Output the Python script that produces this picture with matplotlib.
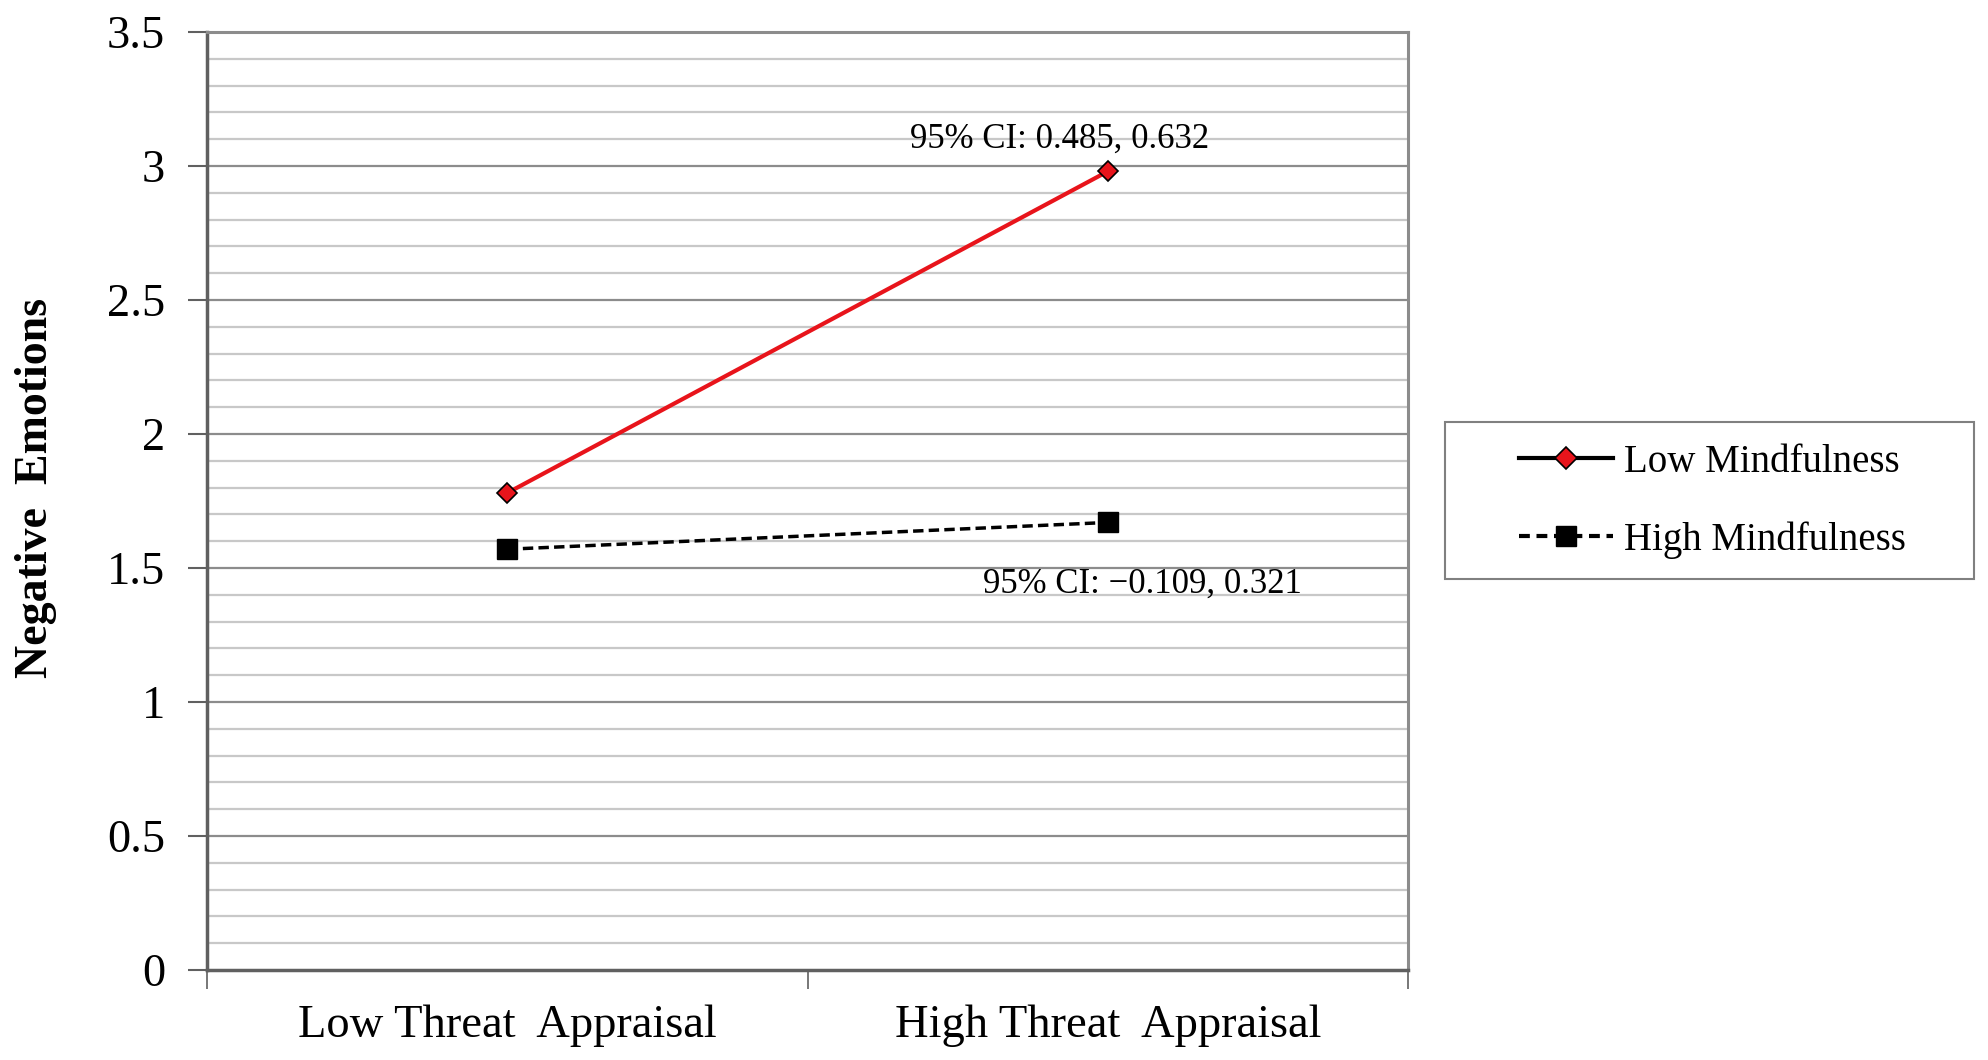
import numpy as np
import matplotlib
matplotlib.use('Agg')
import matplotlib.pyplot as plt
from matplotlib.lines import Line2D
from matplotlib.patches import Rectangle
from matplotlib.ticker import MultipleLocator

# data
categories = ['Low Threat  Appraisal', 'High Threat  Appraisal']
low_mind = [1.78, 2.98]
high_mind = [1.57, 1.67]
series_names = ['Low Mindfulness', 'High Mindfulness']
ci_low = '95% CI: 0.485, 0.632'
ci_high = '95% CI: \u22120.109, 0.321'

plt.rcParams['font.family'] = ['Liberation Serif', 'DejaVu Serif']

fig = plt.figure(figsize=(19.88, 10.6), dpi=100)
ax = fig.add_axes([0.1041, 0.0849, 0.6042, 0.8849])

xpos = np.arange(len(categories)) + 0.5
ax.set_xlim(0, len(categories))
ax.set_ylim(0, 3.5)

# gridlines: minor every 0.1, major every 0.5
for y in np.arange(0.1, 3.5, 0.1):
    if abs(y / 0.5 - round(y / 0.5)) < 1e-6:
        ax.axhline(y, color='#8c8c8c', lw=1.6, zorder=1)
    else:
        ax.axhline(y, color='#c8c8c8', lw=1.6, zorder=1)

ax.plot(xpos, low_mind, color='#e8141b', lw=3, marker='D', ms=10,
        mfc='#e8141b', mec='black', mew=1.2, zorder=3)
ax.plot(xpos, high_mind, color='black', lw=2.5, ls=(0, (3, 1.5)), marker='s', ms=15,
        mfc='black', mec='black', zorder=3)

ax.text(xpos[1] - 0.08, low_mind[1] + 0.12, ci_low, fontsize=25, ha='center', va='center')
ax.text(xpos[1] + 0.057, high_mind[1] - 0.23, ci_high, fontsize=25, ha='center', va='center')

# axes styling
ax.yaxis.set_major_locator(MultipleLocator(0.5))
ax.set_yticklabels([f'{v:g}' for v in ax.get_yticks()])
ax.tick_params(axis='y', which='major', length=14, width=1.5, color='#606060',
               labelsize=33.5, pad=16)
ax.set_xticks([0, 1, 2])
ax.set_xticklabels([])
ax.set_xticks(xpos, minor=True)
ax.set_xticklabels(categories, minor=True)
ax.tick_params(axis='x', which='major', length=14, width=1.2, color='#606060')
ax.tick_params(axis='x', which='minor', length=0, labelsize=33.5, pad=25)

for side in ['top', 'right']:
    ax.spines[side].set_color('#8c8c8c')
    ax.spines[side].set_linewidth(2.2)
for side in ['left', 'bottom']:
    ax.spines[side].set_color('#606060')
    ax.spines[side].set_linewidth(2.5)

fig.text(0.018, 0.54, 'Negative  Emotions', rotation=90, fontsize=33,
         fontweight='bold', ha='center', va='center')

# legend with its own frame (wider side padding than matplotlib gives)
fig.patches.append(Rectangle((0.7269, 0.4538), 0.2661, 0.1481, transform=fig.transFigure,
                             fill=False, edgecolor='#808080', lw=1.5))
handles = [
    Line2D([], [], color='black', lw=3, marker='D', ms=11, mfc='#e8141b', mec='black', mew=1.2),
    Line2D([], [], color='black', lw=3, ls=(0, (2.6, 1.6)), marker='s', ms=15, mfc='black', mec='black'),
]
leg = fig.legend(handles, series_names, loc='center', bbox_to_anchor=(0.8615, 0.527),
                 fontsize=28, frameon=False, handlelength=2.4,
                 handletextpad=0.3, labelspacing=1.05, borderpad=0.2, borderaxespad=0)

fig.savefig('out.png', dpi=100)
